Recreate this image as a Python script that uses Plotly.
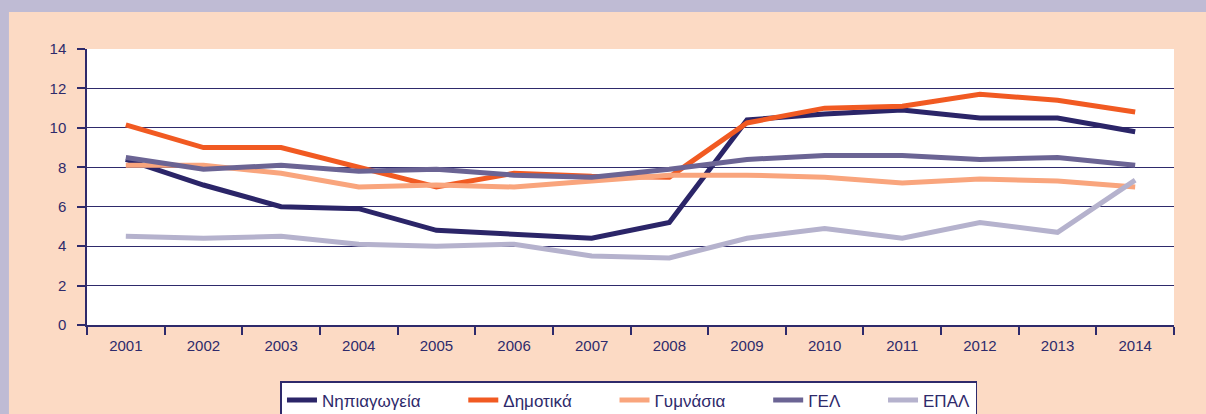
import plotly.graph_objects as go

years = ["2001", "2002", "2003", "2004", "2005", "2006", "2007",
         "2008", "2009", "2010", "2011", "2012", "2013", "2014"]

nipiagogeia = [8.4, 7.1, 6.0, 5.9, 4.8, 4.6, 4.4, 5.2, 10.4, 10.7, 10.9, 10.5, 10.5, 9.8]
dimotika = [10.15, 9.0, 9.0, 8.0, 7.0, 7.7, 7.55, 7.5, 10.25, 11.0, 11.1, 11.7, 11.4, 10.8]
gymnasia = [8.1, 8.1, 7.7, 7.0, 7.1, 7.0, 7.3, 7.6, 7.6, 7.5, 7.2, 7.4, 7.3, 7.0]
gel = [8.5, 7.9, 8.1, 7.8, 7.9, 7.6, 7.5, 7.9, 8.4, 8.6, 8.6, 8.4, 8.5, 8.1]
epal = [4.5, 4.4, 4.5, 4.1, 4.0, 4.1, 3.5, 3.4, 4.4, 4.9, 4.4, 5.2, 4.7, 7.35]

series_names = ["Νηπιαγωγεία", "Δημοτικά", "Γυμνάσια", "ΓΕΛ", "ΕΠΑΛ"]
series_values = [nipiagogeia, dimotika, gymnasia, gel, epal]
series_colors = ["#2b2568", "#f15a22", "#f9a57d", "#6b6494", "#b5b2cd"]

y_ticks = [0, 2, 4, 6, 8, 10, 12, 14]

ink = "#2e2a6b"
peach = "#fcdac4"
lavender = "#bfbbd4"
pad = "\u00a0" * 8

fig = go.Figure()
for i, (name, vals, col) in enumerate(zip(series_names, series_values, series_colors)):
    label = name + (pad if i < len(series_names) - 1 else "")
    fig.add_trace(go.Scatter(
        x=years, y=vals, name=label, mode="lines",
        line=dict(color=col, width=5),
    ))

fig.update_layout(
    width=1206, height=414,
    paper_bgcolor=peach, plot_bgcolor="white",
    margin=dict(l=87, r=32, t=49, b=89, autoexpand=False),
    font=dict(family="Liberation Sans, Arial, sans-serif", color=ink, size=15),
    showlegend=True,
    legend=dict(
        orientation="h", x=0.4986, xanchor="center", y=-0.203, yanchor="top",
        bgcolor="white", bordercolor=ink, borderwidth=1.5,
        font=dict(size=17, color=ink),
        traceorder="normal",
    ),
    xaxis=dict(
        type="category", range=[-0.5, 13.5], tickson="boundaries",
        ticks="outside", ticklen=8, tickcolor=ink, tickwidth=1.5,
        showline=True, linecolor=ink, linewidth=1.5,
        showgrid=False, ticklabelstandoff=6,
        tickfont=dict(size=15, color=ink),
    ),
    yaxis=dict(
        range=[0, 14], tickvals=y_ticks,
        ticks="outside", ticklen=8, tickcolor=ink, tickwidth=1.5,
        showline=True, linecolor=ink, linewidth=1.5,
        showgrid=True, gridcolor=ink, gridwidth=1,
        zeroline=False, ticklabelstandoff=8,
        tickfont=dict(size=15, color=ink),
    ),
    shapes=[
        dict(type="rect", xref="paper", yref="paper", x0=-0.2, x1=1.2,
             y0=1.134, y1=1.3, fillcolor=lavender, line=dict(width=0), layer="below"),
        dict(type="rect", xref="paper", yref="paper", x0=-0.2, x1=-0.0718,
             y0=-0.5, y1=1.3, fillcolor=lavender, line=dict(width=0), layer="below"),
    ],
)

fig.write_html(
    "out.html",
    config={"displayModeBar": False},
    post_script="document.body.style.margin='0';document.body.style.overflow='hidden';",
)
